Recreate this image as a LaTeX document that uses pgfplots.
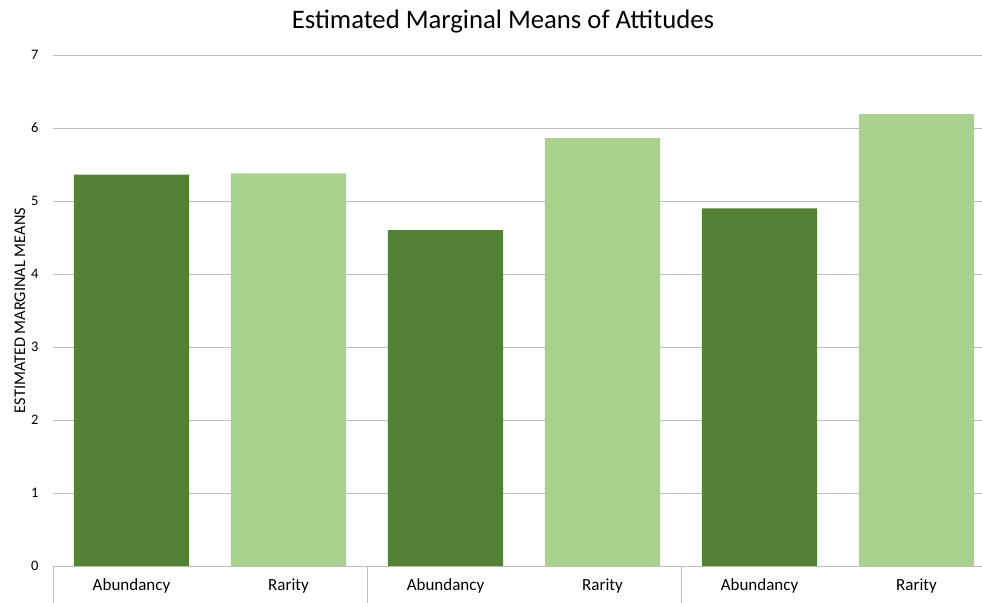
\documentclass[border=0pt]{standalone}
\usepackage{pgfplots}
\pgfplotsset{compat=1.18}
\usepackage{fontspec}
\setmainfont{Carlito}
\definecolor{dkgreen}{HTML}{548235}
\definecolor{ltgreen}{HTML}{A9D18E}
\definecolor{gridgray}{HTML}{BFBFBF}
\begin{document}
\begin{tikzpicture}
\useasboundingbox (0,0) rectangle (982bp,603bp);
\begin{axis}[
  at={(53bp,37bp)}, anchor=south west,
  scale only axis, width=929bp, height=511bp,
  xmin=-0.5, xmax=5.417, ymin=0, ymax=7,
  ytick={0,1,...,7},
  xtick={0,1,2,3,4,5},
  xticklabels={Abundancy,Rarity,Abundancy,Rarity,Abundancy,Rarity},
  x tick style={draw=none},
  y tick style={draw=none},
  axis x line*=bottom, axis y line*=left,
  x axis line style={draw=gridgray, line width=1bp, -},
  y axis line style={draw=none},
  ymajorgrids, grid style={draw=gridgray, line width=1bp},
  clip=false,
  ybar, bar width=0.733, bar shift=0pt,
  yticklabel style={font=\fontsize{14.5bp}{17bp}\selectfont, xshift=-11bp},
  xticklabel style={font=\fontsize{17bp}{19bp}\selectfont, yshift=-5bp},
  /pgf/number format/assume math mode=true,
  ylabel={ESTIMATED MARGINAL MEANS},
  ylabel style={font=\fontsize{16.3bp}{18bp}\selectfont, at={(axis description cs:-0.0355,0.5)}, anchor=center},
  title={Estimated Marginal Means of Attitudes},
  title style={font=\fontsize{26.7bp}{30bp}\selectfont, at={(450bp,538bp)}, anchor=center},
]
\addplot[fill=dkgreen, draw=none] coordinates {(0,5.36) (2,4.60) (4,4.90)};
\addplot[fill=ltgreen, draw=none] coordinates {(1,5.38) (3,5.86) (5,6.19)};
\draw[gridgray, line width=1bp] (axis cs:-0.5,0) -- ([yshift=-40bp]axis cs:-0.5,0);
\draw[gridgray, line width=1bp] (axis cs:1.5,0) -- ([yshift=-40bp]axis cs:1.5,0);
\draw[gridgray, line width=1bp] (axis cs:3.5,0) -- ([yshift=-40bp]axis cs:3.5,0);
\end{axis}
\end{tikzpicture}
\end{document}
